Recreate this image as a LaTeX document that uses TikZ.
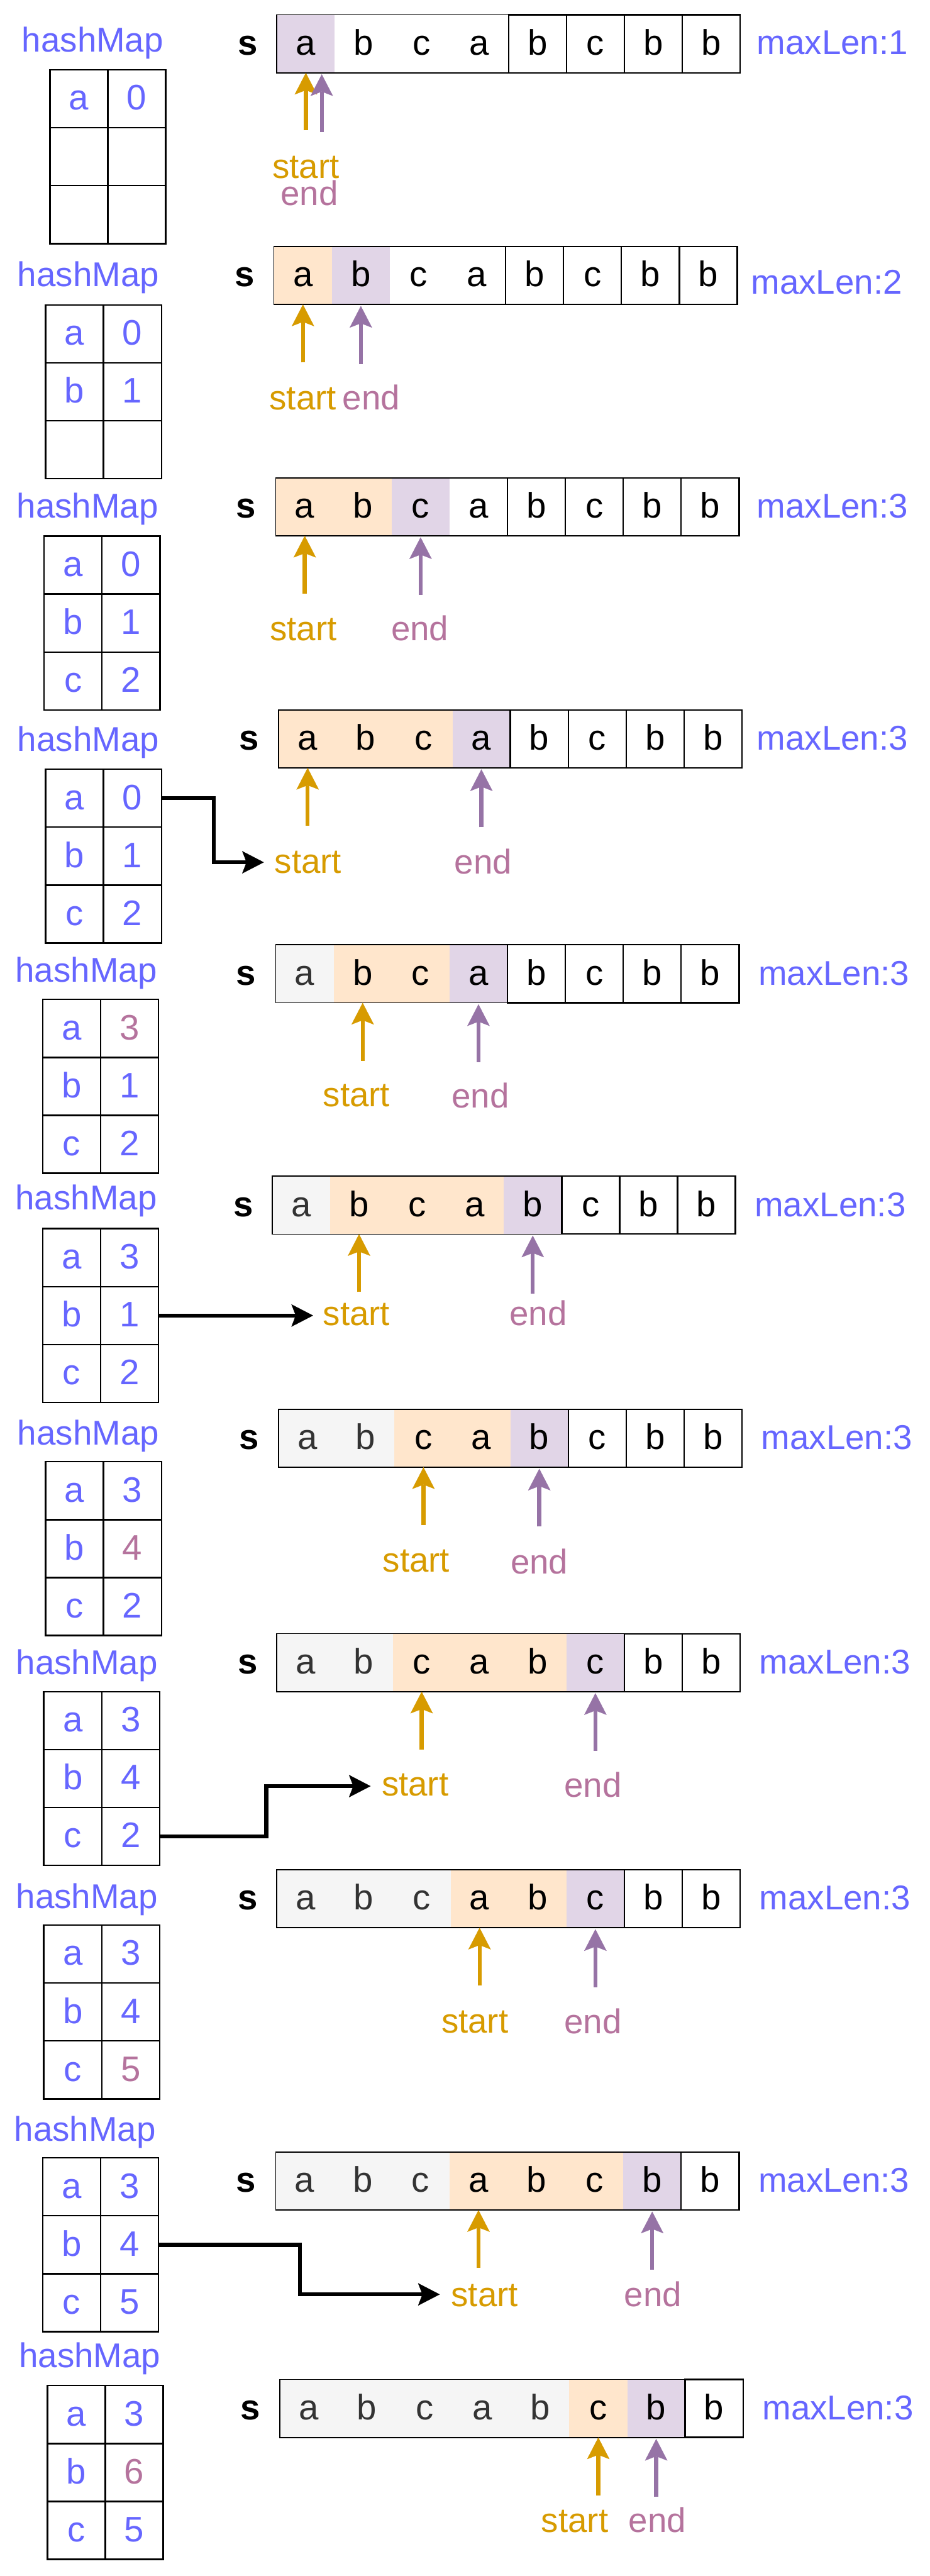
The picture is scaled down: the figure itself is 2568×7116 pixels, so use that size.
\documentclass[tikz,border=0pt]{standalone}
\usepackage{fontspec}
\setmainfont{Liberation Sans}
\usetikzlibrary{arrows.meta}
\definecolor{hmblue}{HTML}{6666FF}
\definecolor{mauve}{HTML}{B5739D}
\definecolor{sorange}{HTML}{D79B00}
\definecolor{epurple}{HTML}{9673A6}
\definecolor{forange}{HTML}{FFE6CC}
\definecolor{fpurple}{HTML}{E1D5E7}
\definecolor{fgrey}{HTML}{F5F5F5}
\definecolor{tgrey}{HTML}{333333}
\newcommand\lblfont{\fontsize{95}{110}\selectfont}
\newcommand\cellfont{\fontsize{98}{110}\selectfont}
\tikzset{
  scell/.style={minimum width=160pt, minimum height=160pt, inner sep=0pt, text height=62pt, text depth=0pt, font=\cellfont, text=black},
  cg/.style={fill=fgrey, text=tgrey},
  co/.style={fill=forange},
  cp/.style={fill=fpurple},
  cw/.style={},
  cb/.style={draw=black, line width=4pt},
  tcell/.style={scell, draw=black, line width=4pt, text=hmblue},
  hv/.style={},
  hm/.style={text=mauve},
  rectline/.style={draw=black, line width=3pt},
  lbl/.style={anchor=base, inner sep=0pt, font=\lblfont},
  hmlbl/.style={lbl, text=hmblue},
  mlbl/.style={lbl, text=hmblue},
  slbl/.style={anchor=base, inner sep=0pt, font=\cellfont\bfseries},
  stlbl/.style={lbl, text=sorange},
  enlbl/.style={lbl, text=mauve},
  tipshape/.style={-{Stealth[length=60pt, width=62pt, inset=12pt, line width=0.5pt]}},
  sarrow/.style={draw=sorange, line width=11pt, tipshape},
  earrow/.style={draw=epurple, line width=11pt, tipshape},
  conn/.style={draw=black, line width=11pt, tipshape}
}
% hash map table: id, left x, top y, rows key/value/style
\newcommand\hmtab[4]{%
  \foreach \kk/\vv/\vst [count=\rr] in {#4} {
    \node[tcell] (#1k\rr) at ({#2+80},{#3+80+160*(\rr-1)}) {\kk};
    \node[tcell,\vst] (#1v\rr) at ({#2+240},{#3+80+160*(\rr-1)}) {\vv};
  }
}
% string strip: id, left x, top y, cells in the big rectangle, cells letter/style
\newcommand\strip[5]{%
  \foreach \ch/\st [count=\nn] in {#5} {
    \node[scell,\st] (#1c\nn) at ({#2+80+160*(\nn-1)},{#3+80}) {\ch};
  }
  \draw[rectline] (#1c1.north west) rectangle (#1c#4.south east);
}
% start / end pointers: id, start cell, end cell
\newcommand\ptrs[3]{%
  \draw[sarrow] ([yshift=-160pt]#1c#2.south) -- (#1c#2.south);
  \draw[earrow] ([yshift=-164pt]#1c#3.south) -- ([yshift=-4pt]#1c#3.south);
}
\begin{document}
\begin{tikzpicture}[x=1pt,y=-1pt]
\useasboundingbox (0,0) rectangle (2568,7116);
\fill[white] (0,0) rectangle (2568,7116);

% ---- panel 1
\node[hmlbl] (p1hm) at (256,144) {hashMap};
\hmtab{p1}{138}{193}{a/0/hv,{}/{}/hv,{}/{}/hv}
\node[slbl] (p1s) at (684,152) {s};
\strip{p1}{765}{41}{4}{a/cp,b/cw,c/cw,a/cw,b/cb,c/cb,b/cb,b/cb}
\node[mlbl] (p1ml) at (2300,151) {maxLen:1};
\draw[sarrow] ([yshift=-159pt]p1c1.south) -- (p1c1.south);
\draw[earrow] ([xshift=44pt,yshift=-163pt]p1c1.south) -- ([xshift=44pt,yshift=-4pt]p1c1.south);
\node[stlbl] (p1st) at (845,492) {start};
\node[enlbl] (p1en) at (855,567) {end};

% ---- panel 2
\node[hmlbl] (p2hm) at (244,792) {hashMap};
\hmtab{p2}{126}{842}{a/0/hv,b/1/hv,{}/{}/hv}
\node[slbl] (p2s) at (676,792) {s};
\strip{p2}{757}{681}{4}{a/co,b/cp,c/cw,a/cw,b/cb,c/cb,b/cb,b/cb}
\node[mlbl] (p2ml) at (2284,812) {maxLen:2};
\ptrs{p2}{1}{2}
\node[stlbl] (p2st) at (837,1131) {start};
\node[enlbl] (p2en) at (1026,1131) {end};

% ---- panel 3
\node[hmlbl] (p3hm) at (242,1430) {hashMap};
\hmtab{p3}{122}{1481}{a/0/hv,b/1/hv,c/2/hv}
\node[slbl] (p3s) at (680,1431) {s};
\strip{p3}{762}{1320}{4}{a/co,b/co,c/cp,a/cw,b/cb,c/cb,b/cb,b/cb}
\node[mlbl] (p3ml) at (2300,1431) {maxLen:3};
\ptrs{p3}{1}{3}
\node[stlbl] (p3st) at (838,1769) {start};
\node[enlbl] (p3en) at (1160,1769) {end};

% ---- panel 4
\node[hmlbl] (p4hm) at (244,2075) {hashMap};
\hmtab{p4}{126}{2125}{a/0/hv,b/1/hv,c/2/hv}
\node[slbl] (p4s) at (688,2072) {s};
\strip{p4}{770}{1961}{4}{a/co,b/co,c/co,a/cp,b/cb,c/cb,b/cb,b/cb}
\node[mlbl] (p4ml) at (2300,2072) {maxLen:3};
\ptrs{p4}{1}{4}
\node[stlbl] (p4st) at (851,2412) {start};
\node[enlbl] (p4en) at (1335,2414) {end};
\coordinate (p4in) at (729,2382);
\draw[conn] (p4v1.east) -- ++(143,0) |- (p4in);

% ---- panel 5
\node[hmlbl] (p5hm) at (238,2713) {hashMap};
\hmtab{p5}{118}{2761}{a/3/hm,b/1/hv,c/2/hv}
\node[slbl] (p5s) at (680,2721) {s};
\strip{p5}{762}{2610}{4}{a/cg,b/co,c/co,a/cp,b/cb,c/cb,b/cb,b/cb}
\node[mlbl] (p5ml) at (2304,2721) {maxLen:3};
\ptrs{p5}{2}{4}
\node[stlbl] (p5st) at (985,3057) {start};
\node[enlbl] (p5en) at (1327,3061) {end};

% ---- panel 6
\node[hmlbl] (p6hm) at (238,3342) {hashMap};
\hmtab{p6}{118}{3394}{a/3/hv,b/1/hv,c/2/hv}
\node[slbl] (p6s) at (672,3360) {s};
\strip{p6}{752}{3249}{5}{a/cg,b/co,c/co,a/co,b/cp,c/cb,b/cb,b/cb}
\node[mlbl] (p6ml) at (2294,3360) {maxLen:3};
\ptrs{p6}{2}{5}
\node[stlbl] (p6st) at (985,3661) {start};
\node[enlbl] (p6en) at (1487,3661) {end};
\coordinate (p6in) at (865,3634);
\draw[conn] (p6v2.east) -- (p6in);

% ---- panel 7
\node[hmlbl] (p7hm) at (244,3991) {hashMap};
\hmtab{p7}{126}{4038}{a/3/hv,b/4/hm,c/2/hv}
\node[slbl] (p7s) at (688,4004) {s};
\strip{p7}{770}{3893}{5}{a/cg,b/cg,c/co,a/co,b/cp,c/cb,b/cb,b/cb}
\node[mlbl] (p7ml) at (2312,4004) {maxLen:3};
\ptrs{p7}{3}{5}
\node[stlbl] (p7st) at (1150,4343) {start};
\node[enlbl] (p7en) at (1490,4347) {end};

% ---- panel 8
\node[hmlbl] (p8hm) at (240,4625) {hashMap};
\hmtab{p8}{121}{4673}{a/3/hv,b/4/hv,c/2/hv}
\node[slbl] (p8s) at (685,4624) {s};
\strip{p8}{765}{4513}{6}{a/cg,b/cg,c/co,a/co,b/co,c/cp,b/cb,b/cb}
\node[mlbl] (p8ml) at (2307,4624) {maxLen:3};
\ptrs{p8}{3}{6}
\node[stlbl] (p8st) at (1147,4961) {start};
\node[enlbl] (p8en) at (1638,4965) {end};
\coordinate (p8in) at (1024,4934);
\draw[conn] (p8v3.east) -- ++(293,0) |- (p8in);

% ---- panel 9
\node[hmlbl] (p9hm) at (240,5271) {hashMap};
\hmtab{p9}{121}{5318}{a/3/hv,b/4/hv,c/5/hm}
\node[slbl] (p9s) at (685,5276) {s};
\strip{p9}{765}{5165}{6}{a/cg,b/cg,c/cg,a/co,b/co,c/cp,b/cb,b/cb}
\node[mlbl] (p9ml) at (2307,5276) {maxLen:3};
\ptrs{p9}{4}{6}
\node[stlbl] (p9st) at (1312,5615) {start};
\node[enlbl] (p9en) at (1638,5618) {end};

% ---- panel 10
\node[hmlbl] (p10hm) at (235,5915) {hashMap};
\hmtab{p10}{118}{5961}{a/3/hv,b/4/hv,c/5/hv}
\node[slbl] (p10s) at (680,6056) {s};
\strip{p10}{762}{5945}{7}{a/cg,b/cg,c/cg,a/co,b/co,c/co,b/cp,b/cb}
\node[mlbl] (p10ml) at (2304,6056) {maxLen:3};
\ptrs{p10}{4}{7}
\node[stlbl] (p10st) at (1339,6371) {start};
\node[enlbl] (p10en) at (1804,6371) {end};
\coordinate (p10in) at (1215,6338);
\draw[conn] (p10v2.east) -- ++(389,0) |- (p10in);

% ---- panel 11
\node[hmlbl] (p11hm) at (248,6540) {hashMap};
\hmtab{p11}{131}{6590}{a/3/hv,b/6/hm,c/5/hv}
\node[slbl] (p11s) at (692,6684) {s};
\strip{p11}{773}{6573}{7}{a/cg,b/cg,c/cg,a/cg,b/cg,c/co,b/cp,b/cb}
\node[mlbl] (p11ml) at (2315,6684) {maxLen:3};
\ptrs{p11}{6}{7}
\node[stlbl] (p11st) at (1588,6996) {start};
\node[enlbl] (p11en) at (1816,6996) {end};
\end{tikzpicture}
\end{document}
